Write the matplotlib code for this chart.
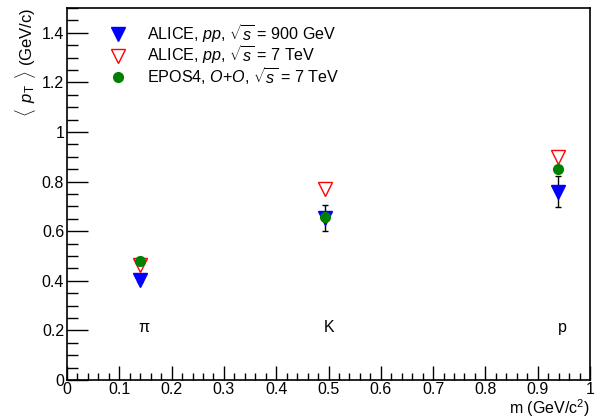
import matplotlib.pyplot as plt
from matplotlib.ticker import MultipleLocator
import numpy as np

plt.rcParams["font.family"] = ["Liberation Sans", "DejaVu Sans"]
plt.rcParams["mathtext.fontset"] = "custom"
plt.rcParams["mathtext.rm"] = "Liberation Sans"
plt.rcParams["mathtext.it"] = "Liberation Sans:italic"

# particle masses (GeV/c^2)
particles = ["\u03c0", "K", "p"]
mass = np.array([0.1396, 0.4937, 0.9383])

# mean pT values (GeV/c)
alice_900 = np.array([0.404, 0.652, 0.760])
alice_900_err = np.array([0.010, 0.052, 0.062])
alice_7tev = np.array([0.464, 0.772, 0.898])
epos_oo = np.array([0.480, 0.656, 0.852])

fig = plt.figure(figsize=(6.03, 4.18), dpi=100)
ax = fig.add_axes([67 / 603, 38 / 418, 523 / 603, 372 / 418])

# Plot points
ax.errorbar(mass, alice_900, yerr=alice_900_err, fmt="none", ecolor="black",
            elinewidth=1, capsize=2, zorder=2)
ax.plot(mass, alice_900, "v", color="blue", markersize=10, linestyle="none",
        label=r"ALICE, $pp$, $\sqrt{s}$ = 900 GeV", zorder=3)
ax.plot(mass, alice_7tev, "v", markerfacecolor="none", markeredgecolor="red",
        markersize=10, linestyle="none",
        label=r"ALICE, $pp$, $\sqrt{s}$ = 7 TeV", zorder=3)
ax.plot(mass, epos_oo, "o", color="green", markersize=7, linestyle="none",
        label=r"EPOS4, $O$+$O$, $\sqrt{s}$ = 7 TeV", zorder=4)

# particle labels
for m, name in zip(mass, particles):
    ax.text(m + 0.008, 0.21, name, ha="center", va="center", fontsize=11.5)

# Axis
ax.set_xlim(0, 1)
ax.set_ylim(0, 1.5)
ax.xaxis.set_minor_locator(MultipleLocator(0.02))
ax.yaxis.set_minor_locator(MultipleLocator(0.05))
ax.set_xticks(np.arange(0, 1.01, 0.1))
ax.set_xticklabels(["0", "0.1", "0.2", "0.3", "0.4", "0.5", "0.6", "0.7", "0.8", "0.9", "1"])
ax.set_yticks(np.arange(0, 1.41, 0.2))
ax.set_yticklabels(["0", "0.2", "0.4", "0.6", "0.8", "1", "1.2", "1.4"])
ax.tick_params(axis="both", which="both", direction="in", labelsize=11.5, width=1)
ax.tick_params(axis="x", which="major", length=10, pad=1.5)
ax.tick_params(axis="x", which="minor", length=5)
ax.tick_params(axis="y", which="major", length=15, pad=2)
ax.tick_params(axis="y", which="minor", length=8)
for s in ax.spines.values():
    s.set_linewidth(1.2)

# Labels
ax.set_xlabel(r"m (GeV/c$^{2}$)", fontsize=11.5, ha="right", x=1.0, labelpad=0)
ax.set_ylabel(r"$\langle\,$ $p_{\rm T}$ $\,\rangle$ (GeV/c)", fontsize=12,
              ha="right", y=1.0, labelpad=3)

# Legend
ax.legend(loc="upper left", bbox_to_anchor=(0.055, 0.98), frameon=False,
          fontsize=11.6, handletextpad=0.8, labelspacing=-0.1, borderaxespad=0)

plt.savefig("out.png", dpi=100)
